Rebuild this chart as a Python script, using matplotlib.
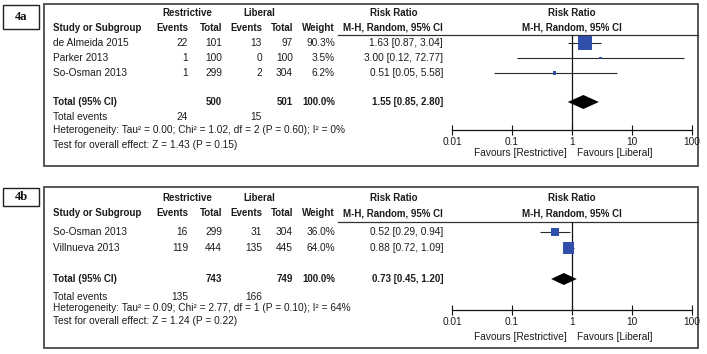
import matplotlib
matplotlib.use("Agg")
import matplotlib.pyplot as plt
from matplotlib.patches import Rectangle
from matplotlib.ticker import NullLocator

W, H, DPI = 707, 354, 100

# ---------------- data ----------------
studies_a = ["de Almeida 2015", "Parker 2013", "So-Osman 2013"]
restr_events_a = [22, 1, 1]
restr_total_a = [101, 100, 299]
lib_events_a = [13, 0, 2]
lib_total_a = [97, 100, 304]
weight_a = [90.3, 3.5, 6.2]
rr_a = [1.63, 3.00, 0.51]
lo_a = [0.87, 0.12, 0.05]
hi_a = [3.04, 72.77, 5.58]
sum_total_a = [500, 501]          # restrictive, liberal
sum_events_a = [24, 15]
pooled_a = [1.55, 0.85, 2.80]     # estimate, lower, upper
het_a = "Heterogeneity: Tau\u00b2 = 0.00; Chi\u00b2 = 1.02, df = 2 (P = 0.60); I\u00b2 = 0%"
test_a = "Test for overall effect: Z = 1.43 (P = 0.15)"

studies_b = ["So-Osman 2013", "Villnueva 2013"]
restr_events_b = [16, 119]
restr_total_b = [299, 444]
lib_events_b = [31, 135]
lib_total_b = [304, 445]
weight_b = [36.0, 64.0]
rr_b = [0.52, 0.88]
lo_b = [0.29, 0.72]
hi_b = [0.94, 1.09]
sum_total_b = [743, 749]
sum_events_b = [135, 166]
pooled_b = [0.73, 0.45, 1.20]
het_b = "Heterogeneity: Tau\u00b2 = 0.09; Chi\u00b2 = 2.77, df = 1 (P = 0.10); I\u00b2 = 64%"
test_b = "Test for overall effect: Z = 1.24 (P = 0.22)"

axis_ticks = [0.01, 0.1, 1, 10, 100]
axis_tick_labels = ["0.01", "0.1", "1", "10", "100"]
panel_labels = ["4a", "4b"]

# ---------------- style ----------------
FONT = ["Liberation Sans", "DejaVu Sans"]
FS = 7.3
BFS = 7.0
TXT = "#1c1c1c"
BLUE = "#2f4fab"
plt.rcParams["font.family"] = FONT

fig = plt.figure(figsize=(W / DPI, H / DPI), dpi=DPI)
bg = fig.add_axes([0, 0, 1, 1])
bg.set_xlim(0, W)
bg.set_ylim(H, 0)
bg.axis("off")

# column anchors (pixels)
X_NAME = 53
X_RE, X_RT, X_LE, X_LT, X_W, X_RR = 188, 222, 262, 293, 335, 443
F_LEFT, F_RIGHT = 452, 692


def t(x, y, s, ha="left", bold=False, **kw):
    bg.text(x, y, s, ha=ha, va="center", fontsize=BFS if bold else FS,
            fontweight="bold" if bold else "normal", color=TXT, **kw)


def panel(lay, label, studies, re, rt, le, lt, wt, rr, lo, hi,
          sum_total, sum_events, pooled, het, test):
    top, bottom = lay["top"], lay["bottom"]
    # outer box
    bg.add_patch(Rectangle((44, top), 654, bottom - top, fill=False,
                           ec="#4a4a4a", lw=1.3))
    # label box
    lx, ly, lw_, lh = lay["lab"]
    bg.add_patch(Rectangle((lx, ly), lw_, lh, fill=False, ec="#222", lw=1.0))
    bg.text(lx + lw_ / 2, ly + lh / 2, label, ha="center", va="center",
            fontsize=9, fontweight="bold", family=["Liberation Serif", "DejaVu Serif"],
            color="#111")
    # headers
    h1, h2 = lay["h1"], lay["h2"]
    t(187, h1, "Restrictive", ha="center", bold=True)
    t(259, h1, "Liberal", ha="center", bold=True)
    t(394, h1, "Risk Ratio", ha="center", bold=True)
    t(572, h1, "Risk Ratio", ha="center", bold=True)
    t(X_NAME, h2, "Study or Subgroup", bold=True)
    t(X_RE, h2, "Events", ha="right", bold=True)
    t(X_RT, h2, "Total", ha="right", bold=True)
    t(X_LE, h2, "Events", ha="right", bold=True)
    t(X_LT, h2, "Total", ha="right", bold=True)
    t(X_W, h2, "Weight", ha="right", bold=True)
    t(X_RR, h2, "M-H, Random, 95% CI", ha="right", bold=True)
    t(572, h2, "M-H, Random, 95% CI", ha="center", bold=True)
    bg.plot([338, 698], [lay["line"], lay["line"]], color="#333", lw=0.9)

    # study rows
    for i, name in enumerate(studies):
        y = lay["rows"][i]
        t(X_NAME, y, name)
        t(X_RE, y, str(re[i]), ha="right")
        t(X_RT, y, str(rt[i]), ha="right")
        t(X_LE, y, str(le[i]), ha="right")
        t(X_LT, y, str(lt[i]), ha="right")
        t(X_W, y, f"{wt[i]:.1f}%", ha="right")
        t(X_RR, y, f"{rr[i]:.2f} [{lo[i]:.2f}, {hi[i]:.2f}]", ha="right")

    yt = lay["total"]
    t(X_NAME, yt, "Total (95% CI)", bold=True)
    t(X_RT, yt, str(sum_total[0]), ha="right", bold=True)
    t(X_LT, yt, str(sum_total[1]), ha="right", bold=True)
    t(X_W, yt, f"{sum(wt):.1f}%", ha="right", bold=True)
    t(X_RR, yt, f"{pooled[0]:.2f} [{pooled[1]:.2f}, {pooled[2]:.2f}]", ha="right", bold=True)
    ye = lay["tevents"]
    t(X_NAME, ye, "Total events")
    t(X_RE, ye, str(sum_events[0]), ha="right")
    t(X_LE, ye, str(sum_events[1]), ha="right")
    t(X_NAME, lay["het"], het)
    t(X_NAME, lay["test"], test)

    # forest axes
    ya, yl = lay["axis"], lay["line"]
    ax = fig.add_axes([F_LEFT / W, 1 - ya / H, (F_RIGHT - F_LEFT) / W, (ya - yl) / H])
    ax.patch.set_visible(False)
    ax.set_xscale("log")
    ax.set_xlim(axis_ticks[0], axis_ticks[-1])
    ax.set_ylim(ya, yl)
    for s in ("top", "left", "right"):
        ax.spines[s].set_visible(False)
    ax.spines["bottom"].set_color("#111")
    ax.spines["bottom"].set_linewidth(0.9)
    ax.set_xticks(axis_ticks)
    ax.set_xticklabels(axis_tick_labels)
    ax.xaxis.set_minor_locator(NullLocator())
    ax.set_yticks([])
    ax.tick_params(axis="x", direction="inout", length=7, width=0.8,
                   labelsize=FS, pad=1.5, colors="#111", labelcolor=TXT)
    ax.axvline(1, color="#111", lw=0.9, zorder=1)
    for i in range(len(studies)):
        y = lay["rows"][i]
        ax.hlines(y, lo[i], hi[i], color="#2a2a2a", lw=0.8, zorder=2)
        side_px = max(2.6, 1.45 * wt[i] ** 0.5)
        ax.scatter([rr[i]], [y], marker="s", s=(side_px * 0.72) ** 2,
                   color=BLUE, edgecolors="none", zorder=3)
    hh = lay["dh"]
    ax.fill([pooled[1], pooled[0], pooled[2], pooled[0]],
            [yt, yt - hh, yt, yt + hh], color="black", zorder=3, lw=0)
    # favours labels
    t(567, lay["fav"], "Favours [Restrictive]", ha="right")
    t(577, lay["fav"], "Favours [Liberal]", ha="left")


lay_a = dict(top=4, bottom=166, lab=(3, 5, 36, 24), h1=13, h2=28, line=35,
             rows=[43, 58, 73], total=102, tevents=117, het=130, test=145,
             axis=130, fav=153, dh=7)
lay_b = dict(top=187, bottom=348, lab=(3, 188, 36, 18), h1=198, h2=213, line=222,
             rows=[232, 248], total=279, tevents=297, het=308, test=321,
             axis=310, fav=337, dh=6)

panel(lay_a, panel_labels[0], studies_a, restr_events_a, restr_total_a,
      lib_events_a, lib_total_a, weight_a, rr_a, lo_a, hi_a,
      sum_total_a, sum_events_a, pooled_a, het_a, test_a)
panel(lay_b, panel_labels[1], studies_b, restr_events_b, restr_total_b,
      lib_events_b, lib_total_b, weight_b, rr_b, lo_b, hi_b,
      sum_total_b, sum_events_b, pooled_b, het_b, test_b)

fig.savefig("out.png", dpi=DPI)
